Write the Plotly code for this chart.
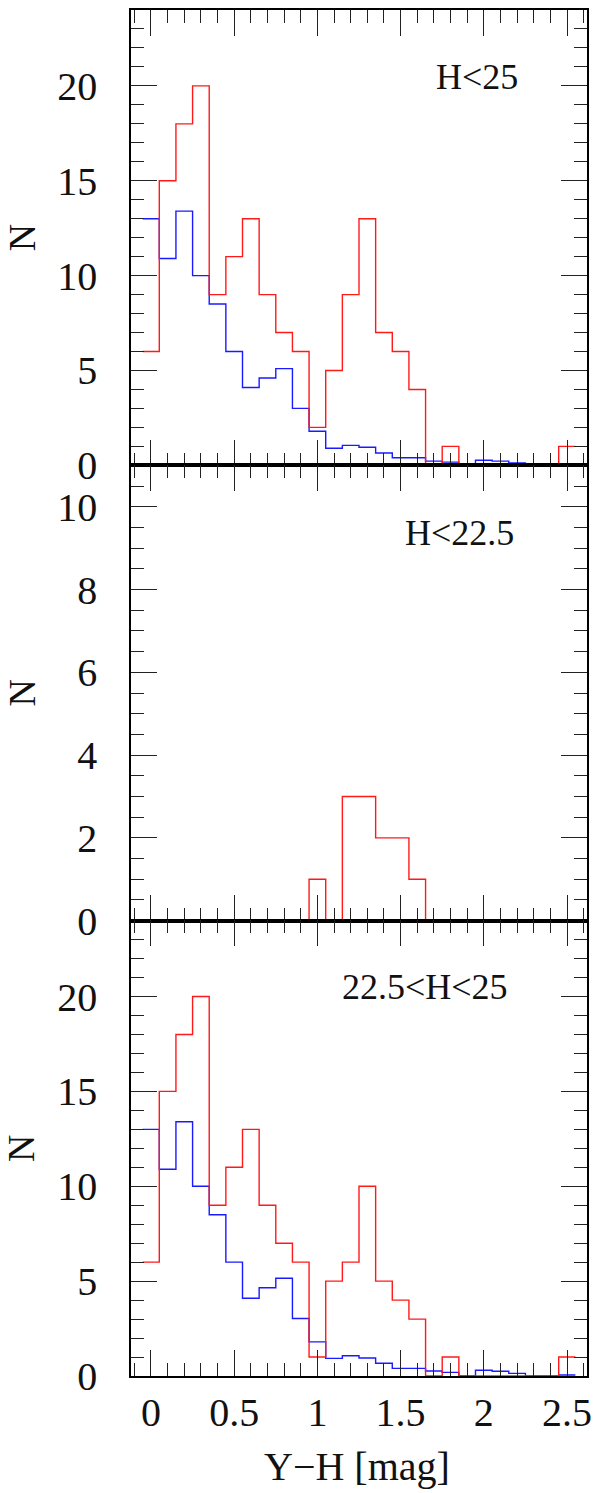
import plotly.graph_objects as go

# Bin centres (Y-H colour, mag), bin width 0.1
bin_centers = [0.0, 0.1, 0.2, 0.3, 0.4, 0.5, 0.6, 0.7, 0.8, 0.9,
               1.0, 1.1, 1.2, 1.3, 1.4, 1.5, 1.6, 1.7, 1.8, 1.9,
               2.0, 2.1, 2.2, 2.3, 2.4, 2.5]
bin_width = 0.1

# Panel 1: H<25
red_h25 = [6, 15, 18, 20, 9, 11, 13, 9, 7, 6,
           2, 5, 9, 13, 7, 6, 4, 0, 1, 0,
           0, 0, 0, 0, 0, 1]
blue_h25 = [13, 10.9, 13.4, 10, 8.5, 6, 4.1, 4.6, 5.1, 3.0,
            1.8, 0.9, 1.05, 0.95, 0.65, 0.4, 0.4, 0.22, 0.17, 0,
            0.27, 0.22, 0.13, 0, 0, 0.05]

# Panel 2: H<22.5
red_h225 = [0, 0, 0, 0, 0, 0, 0, 0, 0, 0,
            1, 0, 3, 3, 2, 2, 1, 0, 0, 0,
            0, 0, 0, 0, 0, 0]

# Panel 3: 22.5<H<25
red_mid = [6, 15, 18, 20, 9, 11, 13, 9, 7, 6,
           1, 5, 6, 10, 5, 4, 3, 0, 1, 0,
           0, 0, 0, 0, 0, 1]
blue_mid = [13, 10.9, 13.4, 10, 8.5, 6, 4.1, 4.65, 5.15, 3.03,
            1.8, 0.93, 1.07, 0.95, 0.67, 0.4, 0.4, 0.26, 0.19, 0,
            0.3, 0.25, 0.14, 0, 0, 0.05]

panel_labels = ["H<25", "H<22.5", "22.5<H<25"]
x_tick_vals = [0, 0.5, 1, 1.5, 2, 2.5]
x_tick_text = ["0", "0.5", "1", "1.5", "2", "2.5"]

FONT = "Liberation Serif"
RED = "#ff1a1a"
BLUE = "#1a1aff"


def step_xy(values):
    edges = [c - bin_width / 2 for c in bin_centers] + [bin_centers[-1] + bin_width / 2]
    return edges, list(values) + [values[-1]]


fig = go.Figure()

panels = [
    (blue_h25, red_h25, "x", "y"),
    (None, red_h225, "x2", "y2"),
    (blue_mid, red_mid, "x3", "y3"),
]
for blue, red, xa, ya in panels:
    if blue is not None:
        xs, ys = step_xy(blue)
        fig.add_trace(go.Scatter(x=xs, y=ys, mode="lines", line=dict(color=BLUE, width=1.4, shape="hv"),
                                 xaxis=xa, yaxis=ya, showlegend=False, hoverinfo="skip"))
    xs, ys = step_xy(red)
    fig.add_trace(go.Scatter(x=xs, y=ys, mode="lines", line=dict(color=RED, width=1.4, shape="hv"),
                             xaxis=xa, yaxis=ya, showlegend=False, hoverinfo="skip"))

xcommon = dict(range=[-0.12, 2.62], tickmode="array", tickvals=x_tick_vals, ticktext=x_tick_text,
               ticks="inside", ticklen=26, tickwidth=1, tickcolor="#222",
               showline=True, linecolor="black", linewidth=1.5, mirror="ticks",
               showgrid=False, zeroline=False,
               minor=dict(tick0=0, dtick=0.1, ticks="inside", ticklen=13, tickwidth=1,
                          tickcolor="#222", showgrid=False))

ycommon = dict(ticks="inside", ticklen=26, tickwidth=1, tickcolor="#222",
               showline=True, linecolor="black", linewidth=1.5, mirror="ticks",
               showgrid=False, zeroline=False,
               tickfont=dict(family=FONT, size=40, color="#111"), ticklabelstandoff=24)

fig.update_layout(
    width=600, height=1493,
    margin=dict(l=131, r=12, t=8, b=117),
    paper_bgcolor="white", plot_bgcolor="white",
    xaxis=dict(xcommon, anchor="y", showticklabels=False),
    xaxis2=dict(xcommon, anchor="y2", showticklabels=False, matches="x"),
    xaxis3=dict(xcommon, anchor="y3", showticklabels=True, matches="x",
                tickfont=dict(family=FONT, size=40, color="#111"), ticklabelstandoff=0),
    yaxis=dict(ycommon, domain=[2 / 3, 1], range=[0, 24], tick0=0, dtick=5,
               minor=dict(tick0=0, dtick=1, ticks="inside", ticklen=13, tickwidth=1, tickcolor="#222")),
    yaxis2=dict(ycommon, domain=[1 / 3, 2 / 3], range=[0, 11], tick0=0, dtick=2,
                minor=dict(tick0=0, dtick=0.5, ticks="inside", ticklen=13, tickwidth=1, tickcolor="#222")),
    yaxis3=dict(ycommon, domain=[0, 1 / 3], range=[0, 24], tick0=0, dtick=5,
                minor=dict(tick0=0, dtick=1, ticks="inside", ticklen=13, tickwidth=1, tickcolor="#222")),
)

ann_font = dict(family=FONT, size=36, color="#111")
fig.add_annotation(text=panel_labels[0], x=0.758, y=0.9507, xref="paper", yref="paper",
                   showarrow=False, font=ann_font, xanchor="center", yanchor="middle")
fig.add_annotation(text=panel_labels[1], x=0.720, y=0.617, xref="paper", yref="paper",
                   showarrow=False, font=ann_font, xanchor="center", yanchor="middle")
fig.add_annotation(text=panel_labels[2], x=0.644, y=0.285, xref="paper", yref="paper",
                   showarrow=False, font=ann_font, xanchor="center", yanchor="middle")

for yc in [5 / 6, 0.5, 1 / 6]:
    fig.add_annotation(text="N", x=-0.240, y=yc, xref="paper", yref="paper", textangle=-90,
                       showarrow=False, font=dict(family=FONT, size=38, color="#111"),
                       xanchor="center", yanchor="middle")

fig.add_annotation(text="Y\u2212H [mag]", x=0.495, y=-0.0665, xref="paper", yref="paper",
                   showarrow=False, font=dict(family=FONT, size=40, color="#111"),
                   xanchor="center", yanchor="middle")

fig.write_html("out.html", config={"displayModeBar": False},
               post_script="document.body.style.margin='0';")
